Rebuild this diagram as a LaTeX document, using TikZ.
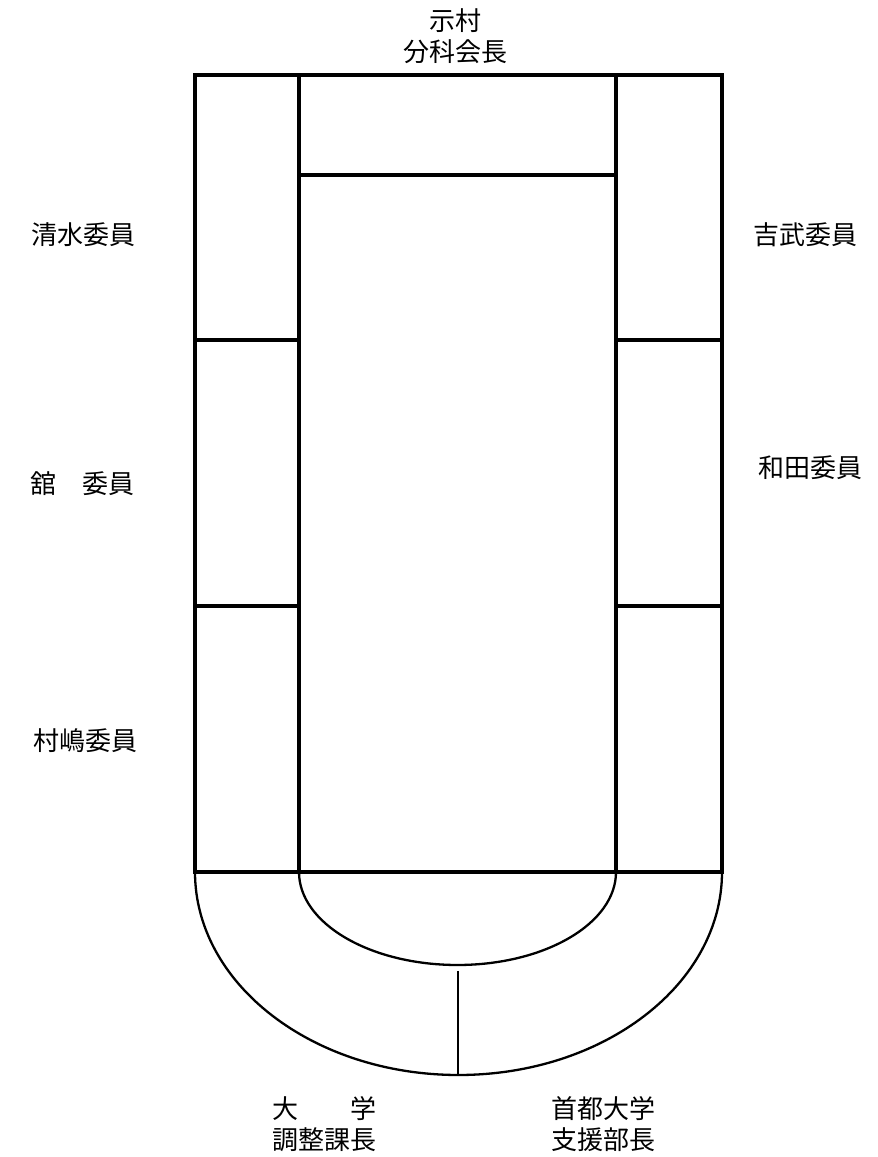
\documentclass[tikz,border=0pt]{standalone}
\usepackage{fontspec}
\newfontfamily\jpfont{Noto Sans CJK JP}
\usepackage{tikz}

\tikzset{
  tableline/.style={line width=3.5pt},
  curveline/.style={line width=2.3pt},
  seatlabel/.style={font=\jpfont\fontsize{26}{31}\selectfont, align=center, inner sep=0pt}
}

\begin{document}
\begin{tikzpicture}[x=1pt, y=1pt]
            \useasboundingbox (0,0) rectangle (878,1157);
            % tables
            \draw[tableline] (195,285) rectangle (722,1082);
            \draw[tableline] (299,285) -- (299,1082) (616,285) -- (616,1082);
            \draw[tableline] (299,982) -- (616,982);
            \draw[tableline] (195,817) -- +(104,0) (195,551) -- +(104,0);
            \draw[tableline] (616,817) -- +(106,0) (616,551) -- +(106,0);
            % rounded end
            \draw[curveline] (299,285) arc [start angle=180, end angle=360, x radius=158.5, y radius=93];
            \draw[curveline] (195,285) arc [start angle=180, end angle=360, x radius=263.5, y radius=203];
            \coordinate (splittop) at (458,186);
            \coordinate (splitbot) at (458,82);
            \draw[line width=2.8pt] (splittop) -- (splitbot);
            % names
            \node[seatlabel] (chair) at (455,1120.5) {示村\\分科会長};
            \node[seatlabel] (shimizu) at (83.5,922.5) {清水委員};
            \node[seatlabel] (tachi) at (82.5,673.5) {舘　委員};
            \node[seatlabel] (murashima) at (85.5,416.5) {村嶋委員};
            \node[seatlabel] (yoshitake) at (805,922.5) {吉武委員};
            \node[seatlabel] (wada) at (810.5,689.5) {和田委員};
            \node[seatlabel] (univ) at (324,33) {大　　学\\調整課長};
            \node[seatlabel] (tmu) at (603.5,33) {首都大学\\支援部長};
        \end{tikzpicture}
\end{document}
